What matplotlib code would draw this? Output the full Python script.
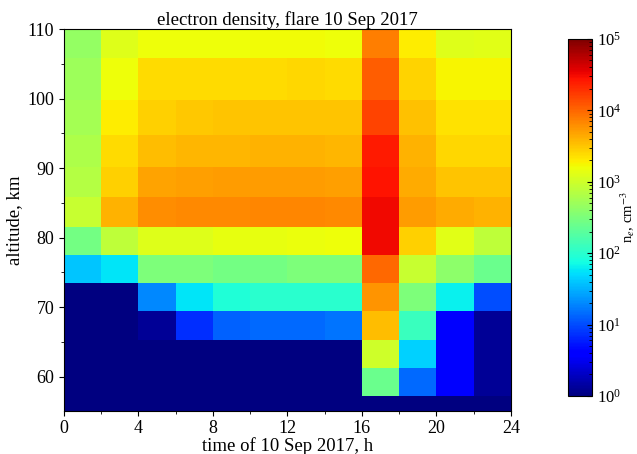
import numpy as np
import matplotlib
matplotlib.use("Agg")
import matplotlib.pyplot as plt
from matplotlib.colors import LogNorm
from matplotlib.ticker import MultipleLocator

plt.rcParams['font.family'] = ['Liberation Serif', 'DejaVu Serif']
plt.rcParams['mathtext.fontset'] = 'stix'

# grid (cell edges)
time_edges = [0, 2, 4, 6, 8, 10, 12, 14, 16, 18, 20, 22, 24]
alt_edges = [55.0, 57.2, 61.2, 65.3, 69.4, 73.5, 77.5, 81.6, 85.9, 90.2, 94.8, 99.8, 105.8, 110.5]

# log10 electron density per 2-h column, rows from bottom to top altitude
col_00 = [0.0, 0.0, 0.0, 0.0, 0.0, 1.6, 2.45, 2.95, 2.85, 2.8, 2.75, 2.7, 2.65]
col_02 = [0.0, 0.0, 0.0, 0.0, 0.0, 1.75, 2.9, 3.6, 3.45, 3.38, 3.3, 3.2, 3.1]
col_04 = [0.0, 0.0, 0.0, 0.1, 1.3, 2.5, 3.1, 3.8, 3.68, 3.55, 3.45, 3.38, 3.2]
col_06 = [0.0, 0.0, 0.0, 0.85, 1.75, 2.5, 3.1, 3.82, 3.7, 3.58, 3.48, 3.38, 3.2]
col_08 = [0.0, 0.0, 0.0, 1.1, 1.95, 2.45, 3.15, 3.82, 3.72, 3.58, 3.5, 3.38, 3.2]
col_10 = [0.0, 0.0, 0.0, 1.15, 2.0, 2.45, 3.15, 3.84, 3.72, 3.6, 3.5, 3.38, 3.22]
col_12 = [0.0, 0.0, 0.0, 1.15, 2.0, 2.5, 3.18, 3.84, 3.72, 3.6, 3.5, 3.4, 3.22]
col_14 = [0.0, 0.0, 0.0, 1.2, 2.0, 2.5, 3.2, 3.82, 3.7, 3.58, 3.5, 3.38, 3.2]
col_16 = [0.0, 2.4, 3.0, 3.55, 3.75, 4.0, 4.5, 4.5, 4.45, 4.4, 4.18, 4.05, 3.88]
col_18 = [0.0, 1.15, 1.65, 2.1, 2.5, 2.95, 3.45, 3.72, 3.65, 3.6, 3.52, 3.42, 3.3]
col_20 = [0.0, 0.55, 0.55, 0.6, 1.8, 2.6, 3.12, 3.65, 3.5, 3.4, 3.35, 3.25, 3.1]
col_22 = [0.0, 0.1, 0.1, 0.1, 1.0, 2.4, 2.9, 3.6, 3.5, 3.4, 3.35, 3.25, 3.12]

columns = [col_00, col_02, col_04, col_06, col_08, col_10,
           col_12, col_14, col_16, col_18, col_20, col_22]
ne = 10 ** np.array(columns).T

fig = plt.figure(figsize=(6.37, 4.54), dpi=100)
ax = fig.add_axes([0.1005, 0.0954, 0.7015, 0.8401])
cax = fig.add_axes([0.8917, 0.1278, 0.0377, 0.7863])

mesh = ax.pcolormesh(time_edges, alt_edges, ne, cmap='jet',
                     norm=LogNorm(vmin=1, vmax=1e5), shading='flat')
ax.set_xlim(0, 24)
ax.set_ylim(55.1, 110)
ax.xaxis.set_major_locator(MultipleLocator(4))
ax.xaxis.set_minor_locator(MultipleLocator(2))
ax.yaxis.set_major_locator(MultipleLocator(10))
ax.yaxis.set_minor_locator(MultipleLocator(5))
ax.tick_params(labelsize=13)
ax.set_title("electron density, flare 10 Sep 2017", fontsize=13.5, pad=3)
ax.set_xlabel("time of 10 Sep 2017, h", fontsize=13.5, labelpad=0)
ax.set_ylabel("altitude, km", fontsize=13.5, labelpad=3)

cbar = fig.colorbar(mesh, cax=cax)
cbar.ax.tick_params(labelsize=12, direction='in')
cbar.ax.tick_params(which='minor', direction='in')
cbar.set_label(r"n$_e$, cm$^{-3}$", fontsize=10.5)
cbar.ax.yaxis.set_label_coords(2.08, 0.5)

fig.savefig("out.png", dpi=100)
